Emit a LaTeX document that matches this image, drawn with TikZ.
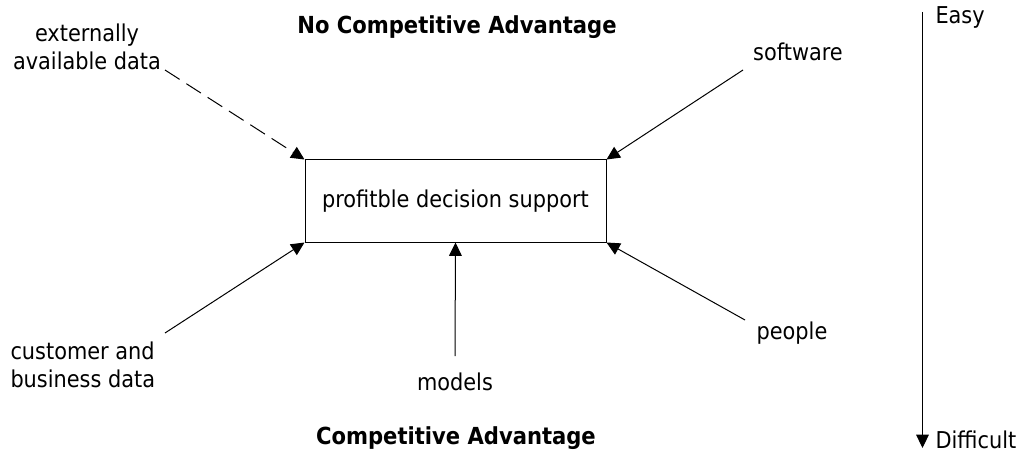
\documentclass[tikz,border=0pt]{standalone}
\usepackage{fontspec}
\setmainfont{DejaVu Sans Condensed}
\usepackage{tikz}
\usetikzlibrary{arrows.meta}

\begin{document}
\begin{tikzpicture}[->,>={Triangle[length=10pt,width=9.5pt]},x=0.75pt,y=-0.75pt,
	line width=0.75pt,font=\fontsize{17.4}{21}\selectfont]
	
	\tikzstyle{every node}=[inner sep=0pt]
	\tikzstyle{heading}=[font=\fontsize{17.6}{21}\selectfont\bfseries]
	\tikzstyle{support}=[draw,minimum width=225.75pt,minimum height=61.5pt]
	
	\useasboundingbox (0,0) rectangle (1022,453);
	
	\node[support]  (box)  at (455.5,201) {profitble decision support};
	\node[heading]  (top)  at (457,27)    {No Competitive Advantage};
	\node[heading]  (bot)  at (456,438)   {Competitive Advantage};
	
	\node[align=center]           (ext)  at (87,47)   {externally\\available data};
	\node                         (soft) at (798,52)  {software};
	\node[align=left,anchor=west] (cust) at (10,365)  {customer and\\business data};
	\node                         (mod)  at (455,382) {models};
	\node                         (ppl)  at (792,333) {people};
	\node[anchor=west]            (easy) at (935,17)  {Easy};
	\node[anchor=west]            (diff) at (935,440) {Difficult};
	
	% free ends of the arrows
	\coordinate (extend)  at (165,70);
	\coordinate (softend) at (743,70);
	\coordinate (custend) at (165,333);
	\coordinate (modend)  at (455,356);
	\coordinate (pplend)  at (745,320);
	\coordinate (axtop)   at (922.5,12);
	\coordinate (axbot)   at (922.5,448);
	
	\path (extend) edge [dash pattern=on 13pt off 6pt] (box.north west)
	(softend) edge (box.north east)
	(custend) edge (box.south west)
	(modend)  edge (box.south)
	(pplend)  edge (box.south east)
	(axtop)   edge (axbot);
\end{tikzpicture}
\end{document}
